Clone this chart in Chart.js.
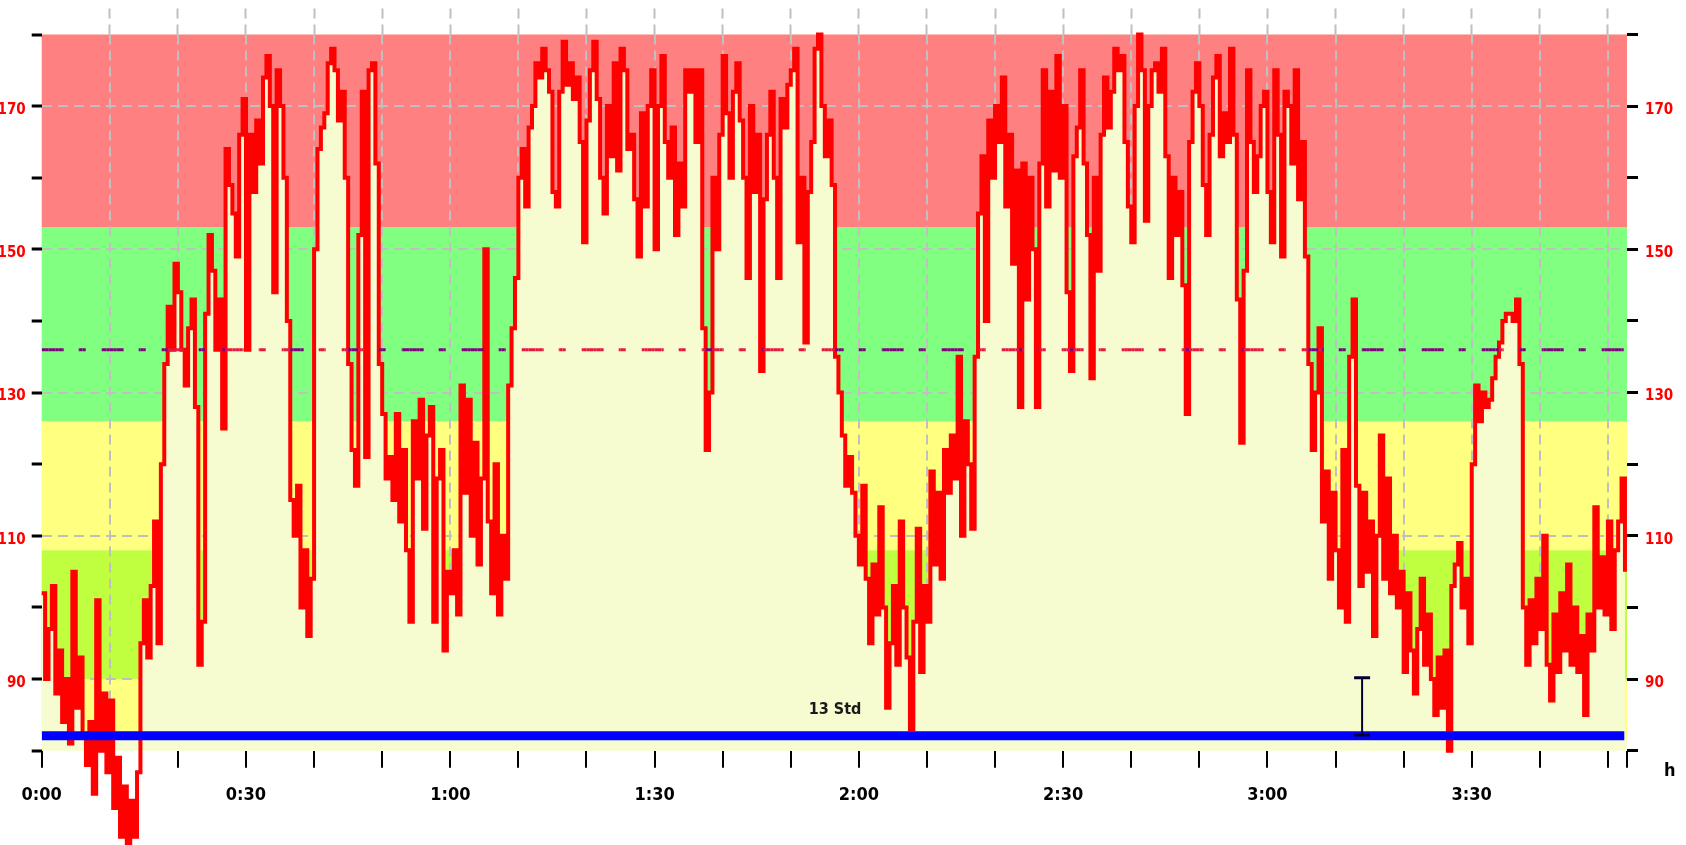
<!DOCTYPE html>
<html>
<head>
<meta charset="utf-8">
<title>Heart rate</title>
<script src="https://cdn.jsdelivr.net/npm/chart.js@4.4.1/dist/chart.umd.min.js"></script>
<style>
  html, body { margin: 0; padding: 0; background: #fff; }
  #wrap { width: 1686px; height: 845px; }
</style>
</head>
<body>
<div id="wrap"><canvas id="hrchart" width="1686" height="845"></canvas></div>
<script>
// samples every half minute
const stepMin = 0.5;
const hr = [
  102, 90, 97, 103, 88, 94, 84, 90, 81, 105, 86, 93, 82, 78, 84, 74, 101, 80, 88, 77,
  87, 72, 79, 68, 75, 66, 73, 68, 77, 95, 101, 93, 103, 112, 95, 120, 134, 142, 136, 148,
  144, 136, 131, 139, 143, 128, 92, 98, 141, 152, 147, 136, 143, 125, 164, 159, 155, 149, 166, 171,
  136, 166, 158, 168, 162, 174, 177, 170, 144, 175, 170, 160, 140, 115, 110, 117, 100, 108, 96, 104,
  150, 164, 167, 169, 176, 178, 175, 168, 172, 160, 134, 122, 117, 152, 172, 121, 175, 176, 162, 134,
  127, 118, 121, 115, 127, 112, 122, 108, 98, 126, 118, 129, 111, 124, 128, 98, 118, 122, 94, 105,
  102, 108, 99, 131, 116, 129, 110, 123, 106, 118, 150, 112, 102, 120, 99, 110, 104, 131, 139, 146,
  160, 164, 156, 167, 170, 176, 174, 178, 175, 172, 158, 156, 172, 179, 173, 176, 171, 174, 165, 151,
  168, 175, 179, 171, 160, 155, 170, 163, 176, 161, 178, 175, 164, 166, 157, 149, 169, 156, 170, 175,
  150, 170, 177, 165, 160, 167, 152, 162, 156, 175, 172, 175, 165, 175, 139, 122, 130, 160, 150, 166,
  177, 169, 160, 172, 176, 168, 160, 146, 170, 158, 166, 133, 157, 166, 172, 160, 146, 171, 167, 173,
  175, 178, 151, 160, 137, 158, 165, 178, 180, 170, 163, 168, 159, 135, 130, 124, 117, 121, 116, 110,
  106, 117, 104, 95, 106, 99, 114, 100, 86, 95, 103, 92, 112, 100, 93, 83, 98, 111, 91, 103,
  98, 119, 106, 116, 104, 122, 116, 124, 118, 135, 110, 126, 120, 111, 135, 155, 163, 140, 168, 160,
  170, 165, 174, 156, 166, 148, 161, 128, 162, 143, 160, 150, 128, 162, 175, 156, 172, 161, 177, 160,
  170, 144, 133, 163, 167, 175, 162, 152, 132, 160, 147, 166, 174, 167, 172, 178, 175, 177, 165, 156,
  151, 170, 180, 175, 154, 170, 175, 176, 172, 178, 163, 146, 160, 152, 158, 145, 127, 165, 172, 176,
  170, 159, 152, 166, 174, 177, 163, 169, 165, 178, 166, 143, 123, 147, 175, 165, 158, 163, 170, 172,
  158, 151, 175, 166, 149, 172, 170, 162, 175, 157, 165, 149, 134, 122, 130, 139, 112, 119, 104, 116,
  108, 100, 122, 98, 135, 143, 117, 103, 116, 105, 112, 96, 110, 124, 104, 118, 102, 110, 100, 105,
  91, 102, 94, 88, 97, 104, 92, 99, 90, 85, 93, 86, 94, 80, 103, 106, 109, 100, 104, 95,
  120, 131, 126, 130, 128, 129, 132, 135, 137, 140, 141, 141, 140, 143, 134, 100, 92, 101, 95, 104,
  97, 110, 92, 87, 99, 91, 102, 94, 106, 92, 100, 91, 96, 85, 99, 94, 114, 100, 107, 99,
  112, 97, 108, 112, 118, 105
];

const xTickMinutes = [0, 10, 20, 30, 40, 50, 60, 70, 80, 90, 100, 110, 120, 130, 140, 150, 160, 170, 180, 190, 200, 210, 220, 230];
const xTickLabels = ['0:00', '', '', '0:30', '', '', '1:00', '', '', '1:30', '', '', '2:00', '', '', '2:30', '', '', '3:00', '', '', '3:30', '', ''];
const xEnd = 232.8;
const xUnit = 'h';

const yTicks = [80, 90, 100, 110, 120, 130, 140, 150, 160, 170, 180];
const yTickLabels = ['', '90', '', '110', '', '130', '', '150', '', '170', ''];

// zone limits, bottom to top
const zoneLimits = [81.6, 90, 108, 126, 153.1, 180];
const zoneColors = ['#FFFF80', '#C0FF40', '#FFFF80', '#80FF80', '#FF8080'];

const targetHr = 136;
const baseHr = 82.1;
const baseSpan = [0, 232.4];
const markerMin = 193.9;
const markerRange = [82.2, 90.2];
const noteText = '13 Std';
const noteMin = 116.5;
const noteHr = 85.7;

const FONT = "'DejaVu Sans Condensed', 'Liberation Sans Narrow', 'DejaVu Sans', sans-serif";
const CREAM = '#F7FCD0';

const hrPoints = hr.map((v, i) => ({ x: i * stepMin, y: v }));
const targetPoints = hrPoints.map(p => ({ x: p.x, y: targetHr })).concat([{ x: xEnd, y: targetHr }]);

const zonePlugin = {
  id: 'zones',
  beforeDraw(chart) {
    const { ctx, chartArea: a, scales: { y } } = chart;
    ctx.save();
    ctx.fillStyle = CREAM;
    ctx.fillRect(a.left, a.top, a.right - a.left, a.bottom - a.top);
    for (let i = 0; i < zoneColors.length; i++) {
      const top = y.getPixelForValue(zoneLimits[i + 1]);
      const bottom = y.getPixelForValue(zoneLimits[i]);
      ctx.fillStyle = zoneColors[i];
      ctx.fillRect(a.left, top, a.right - a.left, bottom - top);
    }
    ctx.restore();
  },
  afterDatasetsDraw(chart) {
    const { ctx, chartArea: a, scales: { x, y } } = chart;
    ctx.save();
    ctx.font = 'bold 16px ' + FONT;
    ctx.fillStyle = '#1a1a1a';
    ctx.textAlign = 'center';
    ctx.textBaseline = 'middle';
    ctx.fillText(noteText, x.getPixelForValue(noteMin), y.getPixelForValue(noteHr));
    ctx.font = 'bold 18px ' + FONT;
    ctx.fillStyle = '#000';
    ctx.textAlign = 'left';
    ctx.fillText(xUnit, a.right + 37, a.bottom + 21);
    ctx.restore();
  }
};

function setXTicks(scale) {
  scale.ticks = xTickMinutes.concat([xEnd]).map(v => ({ value: v }));
}
function setYTicks(scale) {
  scale.ticks = yTicks.map(v => ({ value: v }));
}
const innerLine = c => (c.tick && c.tick.value > 0 && c.tick.value < xEnd) ? '#C0C0C0' : 'rgba(0,0,0,0)';

const ctx = document.getElementById('hrchart').getContext('2d');
const chart = new Chart(ctx, {
  type: 'line',
  data: {
    datasets: [
      {
        // error-bar style marker
        data: [{ x: markerMin, y: markerRange[0] }, { x: markerMin, y: markerRange[1] }],
        borderColor: '#000033',
        borderWidth: 2,
        pointStyle: 'line',
        pointRadius: 8,
        pointBorderWidth: 3,
        pointBorderColor: '#000033',
        order: 0
      },
      {
        data: [{ x: baseSpan[0], y: baseHr }, { x: baseSpan[1], y: baseHr }],
        borderColor: '#0000FF',
        borderWidth: 9,
        pointRadius: 0,
        order: 1
      },
      {
        data: targetPoints,
        borderColor: '#800080',
        borderWidth: 3,
        borderDash: [22, 15, 7, 16],
        pointRadius: 0,
        segment: {
          borderColor: c => hr[c.p0DataIndex] >= targetHr ? '#E8173F' : '#800080',
          borderDashOffset: c => c.p0.x - c.chart.chartArea.left
        },
        order: 2
      },
      {
        data: hrPoints,
        borderColor: '#FF0000',
        borderWidth: 4,
        stepped: true,
        fill: 'start',
        backgroundColor: CREAM,
        pointRadius: 0,
        clip: false,
        order: 3
      }
    ]
  },
  options: {
    responsive: false,
    devicePixelRatio: 1,
    animation: false,
    events: [],
    layout: { padding: 0 },
    plugins: { legend: { display: false }, tooltip: { enabled: false } },
    scales: {
      x: {
        type: 'linear',
        position: 'bottom',
        min: 0,
        max: xEnd,
        afterBuildTicks: setXTicks,
        afterFit: s => { s.height = 94.3; },
        border: { display: false, dash: [10, 6] },
        grid: {
          color: innerLine,
          lineWidth: 2,
          tickLength: 17,
          tickColor: '#000',
          tickWidth: 2,
          tickBorderDash: []
        },
        ticks: {
          autoSkip: false,
          maxRotation: 0,
          padding: 17,
          color: '#000',
          font: { family: FONT, size: 18, weight: 'bold' },
          callback: (v, i) => xTickLabels[i] || ''
        }
      },
      xTop: {
        type: 'linear',
        position: 'top',
        min: 0,
        max: xEnd,
        afterBuildTicks: setXTicks,
        afterFit: s => { s.height = 34.5; },
        border: { display: false },
        grid: {
          drawOnChartArea: false,
          tickLength: 26,
          tickColor: innerLine,
          tickWidth: 2,
          tickBorderDash: [10, 6]
        },
        ticks: { autoSkip: false, maxRotation: 0, callback: () => '' }
      },
      y: {
        position: 'left',
        min: 80,
        max: 180,
        afterBuildTicks: setYTicks,
        afterFit: s => { s.width = 41.7; },
        border: { display: false, dash: [10, 6] },
        grid: {
          color: c => (c.tick && yTickLabels[yTicks.indexOf(c.tick.value)]) ? '#C0C0C0' : 'rgba(0,0,0,0)',
          lineWidth: 2,
          tickLength: 10,
          tickColor: '#000',
          tickWidth: 3,
          tickBorderDash: []
        },
        ticks: {
          padding: 6,
          labelOffset: 4,
          color: '#FF0000',
          font: { family: FONT, size: 15, weight: 'bold' },
          callback: (v, i) => yTickLabels[i] || ''
        }
      },
      yRight: {
        position: 'right',
        min: 80,
        max: 180,
        afterBuildTicks: setYTicks,
        afterFit: s => { s.width = 59; },
        border: { display: false },
        grid: {
          drawOnChartArea: false,
          tickLength: 11,
          tickColor: '#000',
          tickWidth: 3,
          tickBorderDash: []
        },
        ticks: {
          padding: 7,
          labelOffset: 4,
          color: '#FF0000',
          font: { family: FONT, size: 15, weight: 'bold' },
          callback: (v, i) => yTickLabels[i] || ''
        }
      }
    }
  },
  plugins: [zonePlugin]
});
</script>
</body>
</html>
